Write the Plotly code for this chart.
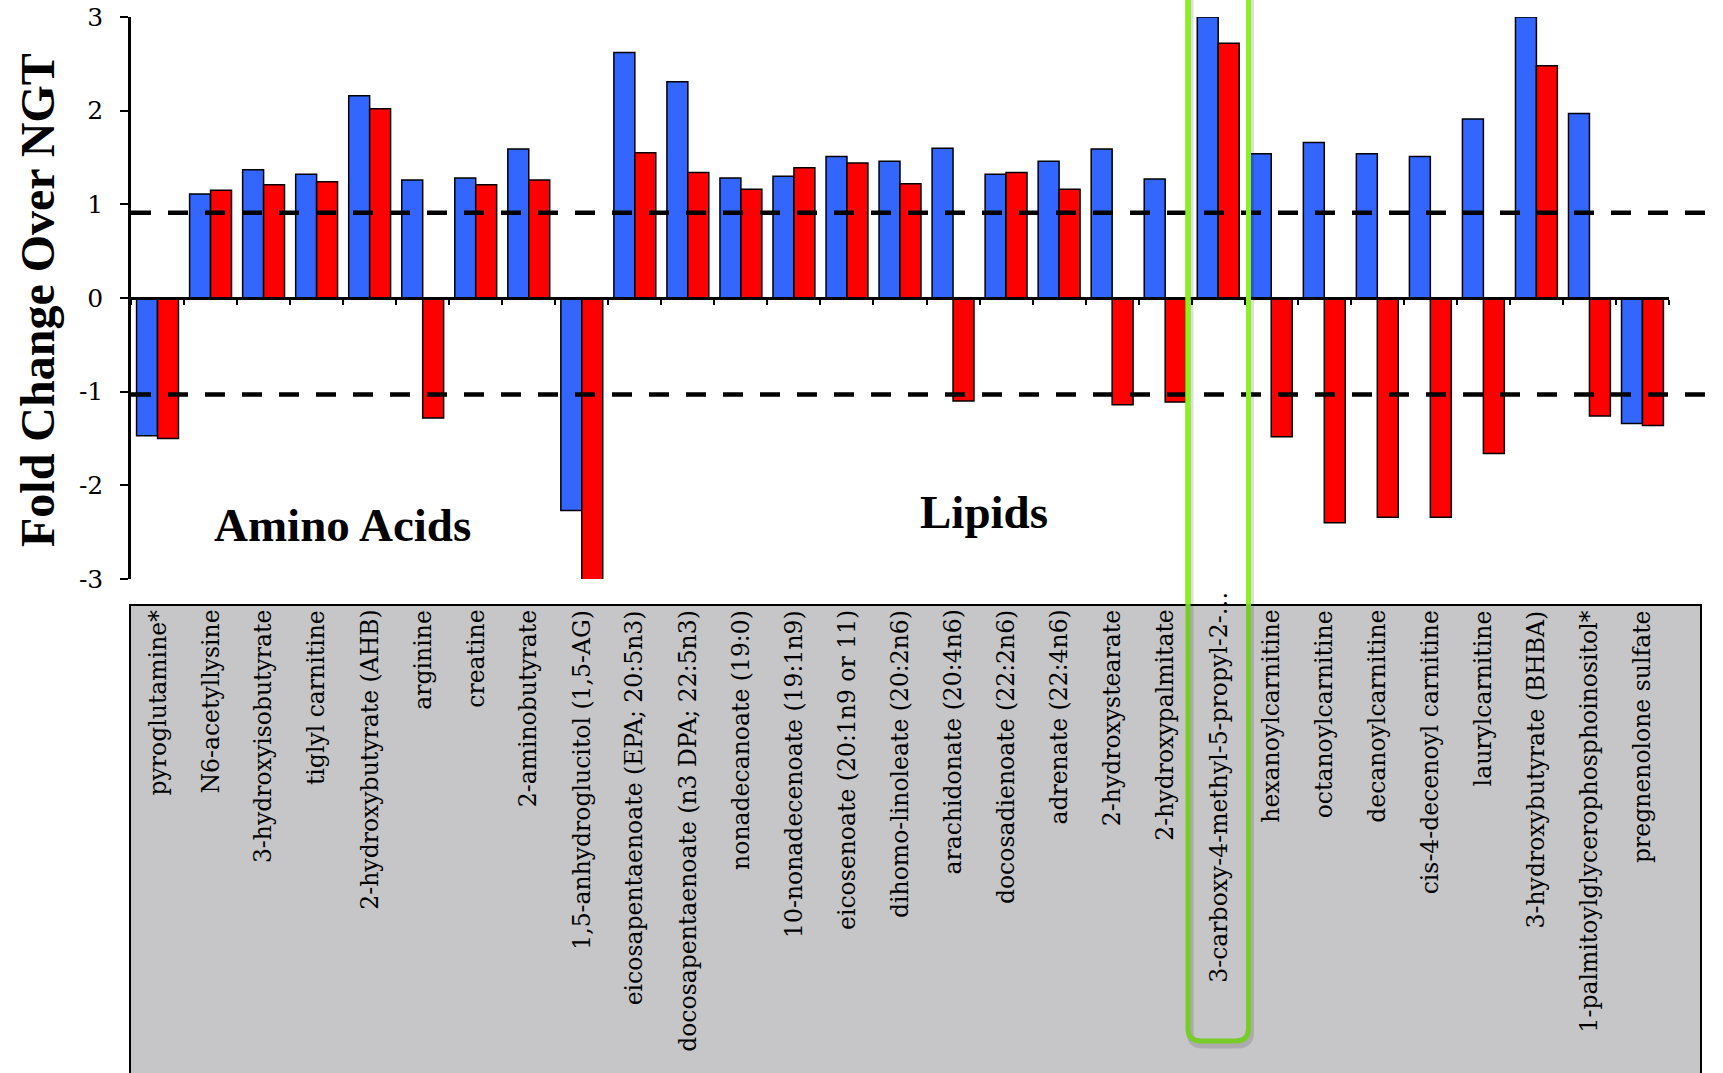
import plotly.graph_objects as go

# Metabolites shown along the x axis
metabolites = [
    "pyroglutamine*", "N6-acetyllysine", "3-hydroxyisobutyrate", "tiglyl carnitine",
    "2-hydroxybutyrate (AHB)", "arginine", "creatine", "2-aminobutyrate",
    "1,5-anhydroglucitol (1,5-AG)", "eicosapentaenoate (EPA; 20:5n3)",
    "docosapentaenoate (n3 DPA; 22:5n3)", "nonadecanoate (19:0)",
    "10-nonadecenoate (19:1n9)", "eicosenoate (20:1n9 or 11)",
    "dihomo-linoleate (20:2n6)", "arachidonate (20:4n6)", "docosadienoate (22:2n6)",
    "adrenate (22:4n6)", "2-hydroxystearate", "2-hydroxypalmitate",
    "3-carboxy-4-methyl-5-propyl-2-…", "hexanoylcarnitine", "octanoylcarnitine",
    "decanoylcarnitine", "cis-4-decenoyl carnitine", "laurylcarnitine",
    "3-hydroxybutyrate (BHBA)", "1-palmitoylglycerophosphoinositol*",
    "pregnenolone sulfate",
]

# Fold change over NGT for the two groups
blue_values = [-1.47, 1.11, 1.37, 1.32, 2.16, 1.26, 1.28, 1.59, -2.27, 2.62,
               2.31, 1.28, 1.30, 1.51, 1.46, 1.60, 1.32, 1.46, 1.59, 1.27,
               3.00, 1.54, 1.66, 1.54, 1.51, 1.91, 3.00, 1.97, -1.34]
red_values = [-1.50, 1.15, 1.21, 1.24, 2.02, -1.28, 1.21, 1.26, -3.30, 1.55,
              1.34, 1.16, 1.39, 1.44, 1.22, -1.10, 1.34, 1.16, -1.14, -1.11,
              2.72, -1.48, -2.40, -2.34, -2.34, -1.66, 2.48, -1.26, -1.36]

# Threshold lines
upper_threshold = 0.91
lower_threshold = -1.03

y_ticks = [-3, -2, -1, 0, 1, 2, 3]
y_tick_text = ["-3", "-2", "-1", "0", "1", "2", "3"]

highlighted = "3-carboxy-4-methyl-5-propyl-2-…"

# Page geometry (pixels)
FIG_W, FIG_H = 1723, 1073
M_L, M_R, M_T, M_B = 131, 54, 17, 494
PLOT_W = FIG_W - M_L - M_R
PLOT_H = FIG_H - M_T - M_B


def xp(px):
    return (px - M_L) / PLOT_W


def yp(py):
    return (M_T + PLOT_H - py) / PLOT_H


fig = go.Figure()
fig.add_trace(go.Bar(x=metabolites, y=blue_values, name="blue",
                     marker=dict(color="#3366FF", line=dict(color="black", width=1.5))))
fig.add_trace(go.Bar(x=metabolites, y=red_values, name="red",
                     marker=dict(color="#FF0000", line=dict(color="black", width=1.5))))

shapes = []

# Grey label panel under the plot
shapes.append(dict(type="rect", xref="paper", yref="paper",
                   x0=xp(130), x1=xp(1701), y0=yp(605), y1=yp(1090),
                   fillcolor="#C6C6C9", line=dict(color="black", width=2), layer="below"))

# Dashed threshold lines
for thr in (upper_threshold, lower_threshold):
    shapes.append(dict(type="line", xref="paper", yref="y",
                       x0=0, x1=xp(1719), y0=thr, y1=thr,
                       line=dict(color="black", width=4.5, dash="20px,17px"),
                       layer="above"))

# Highlight frame around one metabolite
gx0, gx1, gy_bot, r = 1188, 1248.5, 1041, 13


def frame_path(dx=0, dy=0):
    x0, x1, yb = gx0 + dx, gx1 + dx, gy_bot + dy
    return (f"M {xp(x0)},{yp(-20)} L {xp(x0)},{yp(yb - r)} "
            f"Q {xp(x0)},{yp(yb)} {xp(x0 + r)},{yp(yb)} "
            f"L {xp(x1 - r)},{yp(yb)} Q {xp(x1)},{yp(yb)} {xp(x1)},{yp(yb - r)} "
            f"L {xp(x1)},{yp(-20)}")


shapes.append(dict(type="path", xref="paper", yref="paper", path=frame_path(2, 4),
                   line=dict(color="rgba(0,0,0,0.13)", width=7), layer="above"))
shapes.append(dict(type="path", xref="paper", yref="paper", path=frame_path(),
                   line=dict(color="#78CC28", width=5), layer="above"))
for gx in (gx0, gx1):
    shapes.append(dict(type="line", xref="paper", yref="paper",
                       x0=xp(gx), x1=xp(gx), y0=yp(-20), y1=yp(604),
                       line=dict(color="#8CF01F", width=5), layer="above"))

annotations = []
label_font = dict(family="DejaVu Serif", size=23.5, color="black")
for name in metabolites:
    top = 590 if name == highlighted else 608
    annotations.append(dict(x=name, xref="x", y=yp(top), yref="paper",
                            text=name, textangle=-90, showarrow=False,
                            xanchor="center", yanchor="top", font=label_font))

bold_font = dict(family="Liberation Serif", size=47, color="black")
annotations.append(dict(x=xp(342), y=yp(525), xref="paper", yref="paper",
                        text="<b>Amino Acids</b>", showarrow=False,
                        xanchor="center", yanchor="middle", font=bold_font))
annotations.append(dict(x=xp(984), y=yp(512), xref="paper", yref="paper",
                        text="<b>Lipids</b>", showarrow=False,
                        xanchor="center", yanchor="middle", font=bold_font))
annotations.append(dict(x=xp(37), y=yp(300), xref="paper", yref="paper",
                        text="<b>Fold Change Over NGT</b>", textangle=-90,
                        showarrow=False, xanchor="center", yanchor="middle",
                        font=dict(family="Liberation Serif", size=48, color="black")))

fig.update_layout(
    width=FIG_W, height=FIG_H,
    margin=dict(l=M_L, r=M_R, t=M_T, b=M_B, pad=0, autoexpand=False),
    paper_bgcolor="white", plot_bgcolor="rgba(0,0,0,0)",
    barmode="group", bargap=0.21, bargroupgap=0,
    showlegend=False,
    shapes=shapes, annotations=annotations,
    xaxis=dict(type="category", categoryorder="array", categoryarray=metabolites,
               anchor="free", position=0.5, showline=True, linecolor="black",
               linewidth=2.5, ticks="outside", tickson="boundaries", ticklen=5,
               tickwidth=2, tickcolor="black", showticklabels=False,
               showgrid=False, zeroline=False, automargin=False,
               range=[-0.5, len(metabolites) - 0.5]),
    yaxis=dict(range=[-3, 3], tickvals=y_ticks, ticktext=y_tick_text,
               showline=True, linecolor="black", linewidth=2.5,
               ticks="outside", ticklen=8, tickwidth=2, tickcolor="black",
               tickfont=dict(family="DejaVu Serif", size=25, color="black"),
               ticklabelstandoff=12, automargin=False,
               showgrid=False, zeroline=False),
)

fig.write_html("out.html")
